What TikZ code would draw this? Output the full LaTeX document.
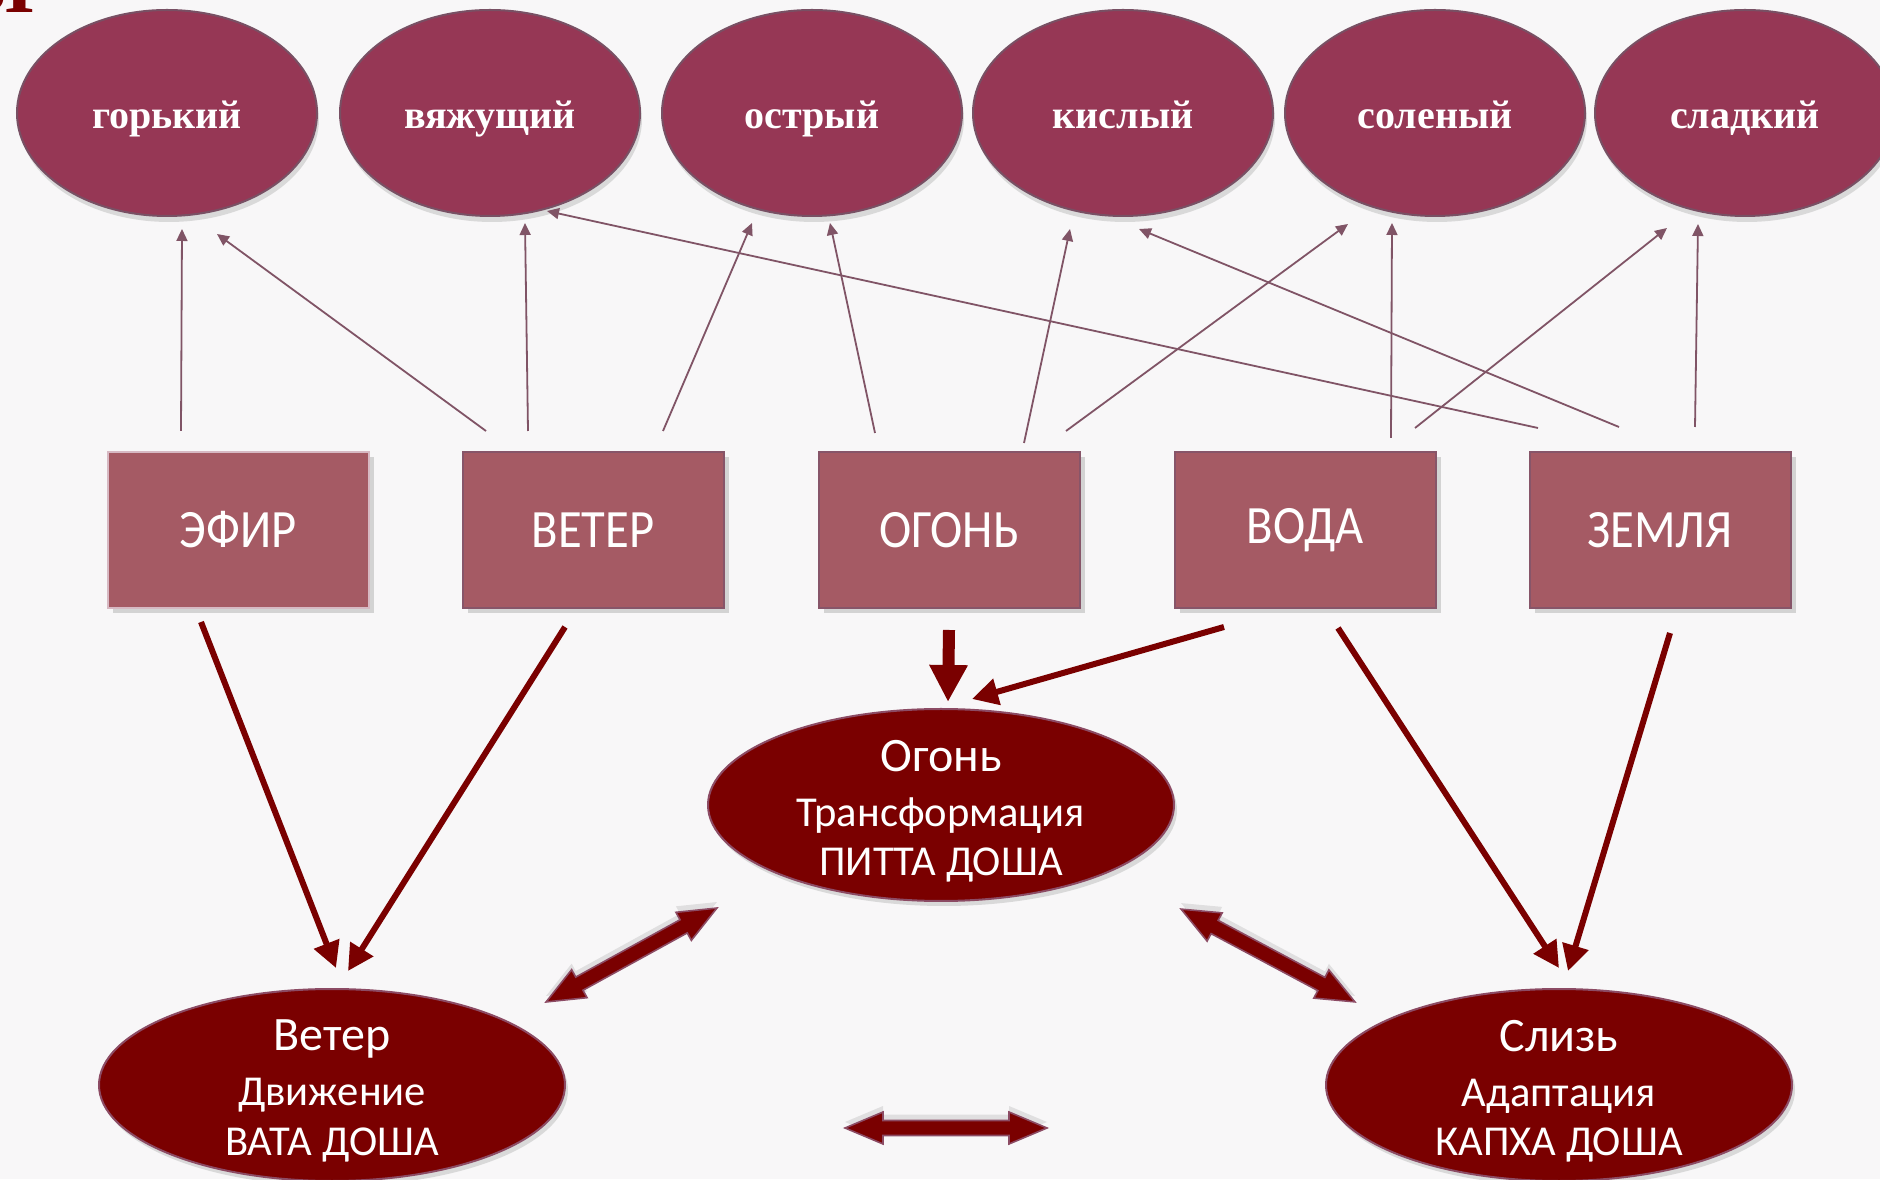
\documentclass[tikz,border=0pt]{standalone}
\usepackage{fontspec}
\setmainfont{Carlito}
\newfontfamily\vkusfont{Liberation Serif}
\newfontfamily\boxfont[FakeStretch=0.9]{Carlito}
\usetikzlibrary{shapes.geometric,arrows.meta,shadows}

\definecolor{fon}{RGB}{248,247,248}
\definecolor{vkus}{RGB}{150,55,85}
\definecolor{vkuskant}{RGB}{120,80,100}
\definecolor{stihia}{RGB}{165,90,100}
\definecolor{stihiakant}{RGB}{135,85,105}
\definecolor{dosha}{RGB}{122,0,0}
\definecolor{doshakant}{RGB}{140,75,100}
\definecolor{tonkaya}{RGB}{128,84,102}

\tikzset{
  vkusell/.style={ellipse, fill=vkus, draw=vkuskant, line width=1pt,
    minimum width=150pt, minimum height=103pt, inner sep=0pt,
    text height=15.2pt, text depth=0pt,
    drop shadow={shadow xshift=1pt, shadow yshift=-3pt, opacity=0.25},
    text=white, font=\vkusfont\bfseries\fontsize{20}{24}\selectfont},
  stihiabox/.style={rectangle, fill=stihia, draw=stihiakant, line width=1pt,
    minimum width=130.5pt, minimum height=78pt, inner sep=0pt,
    drop shadow={shadow xshift=2.5pt, shadow yshift=-2.5pt, opacity=0.3},
    text=white, font=\boxfont\fontsize{27}{30}\selectfont},
  doshaell/.style={ellipse, fill=dosha, draw=doshakant, line width=1pt,
    minimum width=233pt, minimum height=96pt, inner sep=0pt,
    drop shadow={shadow xshift=1.5pt, shadow yshift=-2.5pt, opacity=0.25}},
  doshatext/.style={text=white, align=center, inner sep=0pt, yshift=-3pt,
    font=\fontsize{21.3}{24.6}\selectfont},
  tonkaya/.style={draw=tonkaya, line width=0.9pt,
    -{Triangle[length=6pt,width=5.5pt]}},
  tolstaya/.style={draw=dosha, line width=3pt,
    -{Triangle[length=13pt,width=13pt]}},
  dvoinaya/.style={fill=dosha, draw=doshakant, line width=0.8pt,
    drop shadow={shadow xshift=0pt, shadow yshift=3pt, opacity=0.2}}
}

\begin{document}
\begin{tikzpicture}[x=0.5pt, y=0.5pt]
  \fill[fon] (0,0) rectangle (1880,1179);
  \useasboundingbox (0,0) rectangle (1880,1179);

  % остаток заголовка
  \node[anchor=base east, inner sep=0pt, text=dosha,
    font=\vkusfont\bfseries\fontsize{40}{40}\selectfont] (zag) at (34,1166) {Ы};

  % вкусы
  \node[vkusell] (gorky)  at (167,1066)  {горький};
  \node[vkusell] (vyazh)  at (490,1066)  {вяжущий};
  \node[vkusell] (ostry)  at (812,1066)  {острый};
  \node[vkusell] (kisly)  at (1123,1066) {кислый};
  \node[vkusell] (soleny) at (1435,1066) {соленый};
  \node[vkusell] (sladky) at (1745,1066) {сладкий};

  % стихии
  \node[stihiabox, draw={rgb,255:red,215;green,185;blue,195}] (efir) at (238,649) {ЭФИР};
  \node[stihiabox] (veter)  at (593,649)  {ВЕТЕР};
  \node[stihiabox] (ogon)   at (949,649)  {ОГОНЬ};
  \node[stihiabox] (voda)   at (1305,649) {ВОДА};
  \node[stihiabox] (zemlya) at (1660,649) {ЗЕМЛЯ};

  % доши
  \node[doshaell, label={[doshatext]center:{\fontsize{24}{24.6}\selectfont Огонь}\\[2.9pt]Трансформация\\ПИТТА ДОША}] (pitta) at (941,374) {};
  \node[doshaell, label={[doshatext]center:{\fontsize{24}{24.6}\selectfont Ветер}\\[2.9pt]Движение\\ВАТА ДОША}] (vata) at (332,94) {};
  \node[doshaell, label={[doshatext]center:{\fontsize{24}{24.6}\selectfont Слизь}\\[2.9pt]Адаптация\\КАПХА ДОША}] (kapha) at (1559,94) {};

  % стихии -> вкусы
  \foreach \st/\sx/\sy/\vk/\vx/\vy in {
      efir/-28.5/10/gorky/7.5/-6,
      veter/-53.5/10/gorky/25/-8.5,
      veter/-32.5/10/vyazh/17.5/-3,
      veter/35/10/ostry/-30/-3,
      ogon/-37/9/ostry/9/-3,
      ogon/37.5/4/kisly/-26.5/-6,
      ogon/58.5/10/soleny/-43.5/-3.5,
      voda/43/6.5/soleny/-21.5/-3,
      voda/55/11.5/sladky/-39/-5.5,
      zemlya/-61/11.5/vyazh/28.5/3,
      zemlya/-20.5/12/kisly/8/-6,
      zemlya/17.5/12/sladky/-23.5/-3.5} {
    \draw[tonkaya] ([xshift=\sx pt, yshift=\sy pt]\st.north)
      -- ([xshift=\vx pt, yshift=\vy pt]\vk.south);
  }

  % стихии -> доши
  \foreach \st/\sx/\sy/\ds/\dx/\dy in {
      efir/-18.5/-6.5/vata/2/10,
      veter/-14/-9/vata/8/8.5,
      voda/-40.5/-9/pitta/15.5/4.5,
      voda/16.5/-9.5/kapha/0/10,
      zemlya/5/-12/kapha/4.5/8.5} {
    \draw[tolstaya] ([xshift=\sx pt, yshift=\sy pt]\st.south)
      -- ([xshift=\dx pt, yshift=\dy pt]\ds.north);
  }
  \draw[draw=dosha, line width=6pt, -{Triangle[length=18.5pt,width=18pt]}]
    ([yshift=-10.5pt]ogon.south) -- ([xshift=3.5pt, yshift=3pt]pitta.north);

  % двойные стрелки
  \foreach \cx/\cy/\ug/\dl in {631.5/224/28.8/48.75, 1268/223.5/-28.1/49.25, 946/51/0/50.5} {
    \filldraw[dvoinaya, shift={(\cx,\cy)}, rotate=\ug]
      (-\dl pt,0) -- (-\dl pt+19pt,8pt) -- (-\dl pt+19pt,3.75pt)
      -- (\dl pt-19pt,3.75pt) -- (\dl pt-19pt,8pt) -- (\dl pt,0)
      -- (\dl pt-19pt,-8pt) -- (\dl pt-19pt,-3.75pt)
      -- (-\dl pt+19pt,-3.75pt) -- (-\dl pt+19pt,-8pt) -- cycle;
  }
\end{tikzpicture}
\end{document}
